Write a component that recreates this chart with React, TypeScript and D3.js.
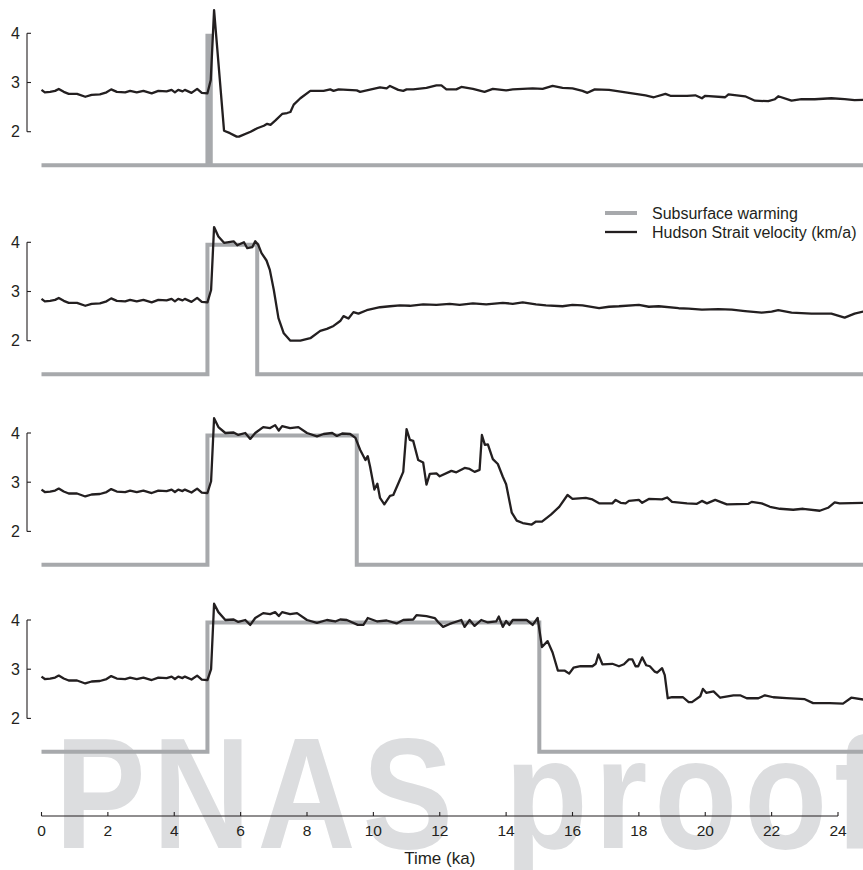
import React from 'react';
import * as d3 from 'd3';

// shared spin-up (0-5 ka), identical in every run
const spinup: [number, number][] = [
  [0, 2.85], [0.1, 2.8], [0.26, 2.81], [0.41, 2.83], [0.52, 2.87], [0.67, 2.81], [0.82, 2.77],
  [1.07, 2.77], [1.32, 2.71], [1.51, 2.75], [1.76, 2.76], [1.96, 2.8], [2.1, 2.86], [2.27, 2.81],
  [2.52, 2.8], [2.67, 2.83], [2.87, 2.8], [3.07, 2.83], [3.32, 2.78], [3.52, 2.83], [3.77, 2.82],
  [3.92, 2.85], [4.02, 2.8], [4.12, 2.85], [4.25, 2.82], [4.32, 2.85], [4.52, 2.79], [4.69, 2.87],
  [4.83, 2.79], [5.0, 2.78],
];

const tail1: [number, number][] = [
  [5.1, 3.05], [5.2, 4.47], [5.5, 2.02], [5.68, 1.97], [5.88, 1.9], [5.95, 1.9], [6.3, 2.0],
  [6.5, 2.07], [6.7, 2.12], [6.8, 2.16], [6.9, 2.14], [7.05, 2.23], [7.25, 2.36], [7.4, 2.38],
  [7.5, 2.4], [7.6, 2.55], [7.8, 2.68], [8.1, 2.83], [8.5, 2.83], [8.7, 2.86], [8.8, 2.83],
  [8.95, 2.86], [9.5, 2.84], [9.6, 2.81], [10.2, 2.9], [10.4, 2.88], [10.5, 2.93], [10.75, 2.85],
  [10.9, 2.83], [11.0, 2.86], [11.2, 2.86], [11.6, 2.89], [11.9, 2.94], [12.05, 2.94], [12.2, 2.86],
  [12.5, 2.86], [12.65, 2.91], [13.0, 2.87], [13.35, 2.81], [13.6, 2.87], [14.0, 2.84], [14.2, 2.86],
  [14.8, 2.88], [15.1, 2.87], [15.4, 2.93], [15.7, 2.89], [16.0, 2.88], [16.3, 2.83], [16.45, 2.79],
  [16.67, 2.86], [17.1, 2.85], [17.6, 2.8], [18.2, 2.74], [18.45, 2.7], [18.8, 2.77], [18.95, 2.73],
  [19.45, 2.73], [19.7, 2.74], [19.9, 2.68], [20.0, 2.73], [20.6, 2.7], [20.7, 2.76], [21.2, 2.72],
  [21.5, 2.63], [21.9, 2.62], [22.1, 2.66], [22.2, 2.72], [22.6, 2.63], [22.9, 2.66], [23.3, 2.66],
  [23.8, 2.68], [24.2, 2.66], [24.5, 2.64], [24.8, 2.65],
];

const tail2: [number, number][] = [
  [5.11, 3.03], [5.2, 4.31], [5.33, 4.12], [5.5, 3.99], [5.79, 4.02], [5.9, 3.94], [6.1, 4.0],
  [6.2, 3.88], [6.35, 3.9], [6.44, 4.02], [6.53, 3.95], [6.63, 3.78], [6.78, 3.63], [6.88, 3.44],
  [7.0, 3.03], [7.14, 2.46], [7.3, 2.15], [7.5, 2.0], [7.8, 2.0], [8.1, 2.05], [8.4, 2.2],
  [8.6, 2.24], [8.8, 2.3], [9.0, 2.4], [9.1, 2.5], [9.25, 2.45], [9.4, 2.58], [9.55, 2.55],
  [9.8, 2.62], [10.0, 2.65], [10.2, 2.68], [10.5, 2.7], [10.8, 2.72], [11.1, 2.71], [11.5, 2.74],
  [11.9, 2.73], [12.3, 2.75], [12.6, 2.73], [13.0, 2.76], [13.4, 2.74], [13.9, 2.77], [14.2, 2.75],
  [14.5, 2.78], [14.9, 2.74], [15.2, 2.72], [15.7, 2.7], [16.0, 2.73], [16.3, 2.72], [16.8, 2.66],
  [17.1, 2.69], [17.4, 2.7], [18.0, 2.73], [18.3, 2.69], [18.6, 2.7], [19.2, 2.66], [19.5, 2.65],
  [19.9, 2.63], [20.4, 2.64], [20.8, 2.63], [21.2, 2.6], [21.7, 2.57], [22.0, 2.59], [22.2, 2.62],
  [22.6, 2.57], [23.2, 2.55], [23.8, 2.55], [24.2, 2.47], [24.5, 2.55], [24.8, 2.6],
];

const tail3: [number, number][] = [
  [5.11, 3.02], [5.2, 4.3], [5.33, 4.12], [5.54, 4.0], [5.79, 4.01], [5.93, 3.96], [6.14, 4.0],
  [6.29, 3.88], [6.44, 4.0], [6.68, 4.12], [6.89, 4.1], [7.04, 4.16], [7.15, 4.05], [7.25, 4.14],
  [7.49, 4.1], [7.74, 4.12], [8.0, 4.0], [8.3, 3.93], [8.5, 3.98], [8.76, 4.0], [8.9, 3.94],
  [9.06, 3.99], [9.3, 3.98], [9.46, 3.9], [9.6, 3.66], [9.76, 3.45], [9.83, 3.53], [9.9, 3.32],
  [10.03, 2.85], [10.12, 2.97], [10.2, 2.68], [10.33, 2.55], [10.5, 2.72], [10.6, 2.74], [10.76, 2.99],
  [10.9, 3.21], [11.0, 4.08], [11.1, 3.86], [11.2, 3.84], [11.35, 3.45], [11.5, 3.4], [11.6, 2.95],
  [11.7, 3.17], [11.9, 3.18], [12.0, 3.12], [12.35, 3.23], [12.5, 3.2], [12.75, 3.29], [12.9, 3.27],
  [13.05, 3.21], [13.2, 3.25], [13.27, 3.96], [13.36, 3.76], [13.45, 3.77], [13.6, 3.47], [13.75, 3.37],
  [13.9, 3.11], [14.0, 2.96], [14.17, 2.38], [14.32, 2.22], [14.5, 2.17], [14.77, 2.14], [14.9, 2.2],
  [15.08, 2.2], [15.35, 2.34], [15.6, 2.5], [15.85, 2.74], [16.0, 2.66], [16.4, 2.68], [16.6, 2.65],
  [16.8, 2.57], [17.2, 2.57], [17.3, 2.64], [17.45, 2.58], [17.6, 2.57], [17.7, 2.62], [18.0, 2.64],
  [18.1, 2.58], [18.3, 2.66], [18.7, 2.65], [18.85, 2.69], [19.0, 2.6], [19.45, 2.57], [19.75, 2.56],
  [19.9, 2.62], [20.05, 2.57], [20.3, 2.64], [20.65, 2.55], [21.3, 2.56], [21.4, 2.6], [21.7, 2.57],
  [21.95, 2.5], [22.25, 2.46], [22.65, 2.44], [22.95, 2.46], [23.45, 2.42], [23.7, 2.48], [23.9, 2.59],
  [24.05, 2.57], [24.8, 2.58],
];

const tail4: [number, number][] = [
  [5.11, 3.0], [5.2, 4.33], [5.33, 4.16], [5.54, 4.0], [5.79, 4.01], [5.93, 3.96], [6.14, 4.0],
  [6.29, 3.9], [6.44, 4.04], [6.68, 4.14], [6.89, 4.12], [7.04, 4.16], [7.15, 4.08], [7.25, 4.16],
  [7.49, 4.12], [7.7, 4.14], [8.0, 4.0], [8.3, 3.94], [8.6, 4.0], [8.85, 3.97], [9.0, 4.01],
  [9.2, 4.0], [9.53, 3.9], [9.7, 3.9], [9.83, 4.04], [10.12, 3.97], [10.4, 3.99], [10.7, 3.93],
  [10.9, 4.0], [11.2, 4.01], [11.3, 4.1], [11.6, 4.08], [11.85, 4.04], [11.95, 3.96], [12.1, 3.86],
  [12.3, 3.92], [12.65, 4.0], [12.75, 3.86], [12.9, 4.0], [13.05, 3.88], [13.25, 4.0], [13.45, 3.95],
  [13.7, 3.97], [13.78, 4.07], [13.9, 3.86], [14.0, 3.98], [14.1, 3.9], [14.2, 4.0], [14.62, 4.0],
  [14.8, 3.9], [14.95, 4.04], [15.08, 3.45], [15.25, 3.57], [15.4, 3.34], [15.56, 2.97], [15.77, 2.97],
  [15.9, 2.91], [16.03, 3.03], [16.24, 3.06], [16.6, 3.06], [16.7, 3.11], [16.78, 3.3], [16.9, 3.1],
  [17.2, 3.11], [17.4, 3.06], [17.55, 3.1], [17.7, 3.2], [17.8, 3.2], [17.9, 3.06], [17.98, 3.06],
  [18.1, 3.24], [18.22, 3.08], [18.33, 3.06], [18.48, 2.95], [18.55, 2.93], [18.7, 3.02], [18.78, 2.88],
  [18.87, 2.41], [19.0, 2.43], [19.33, 2.43], [19.5, 2.33], [19.6, 2.33], [19.85, 2.45], [19.93, 2.6],
  [20.03, 2.52], [20.25, 2.55], [20.45, 2.42], [20.85, 2.47], [21.05, 2.47], [21.25, 2.41], [21.6, 2.41],
  [21.8, 2.47], [22.05, 2.43], [22.45, 2.41], [23.0, 2.39], [23.25, 2.31], [23.75, 2.31], [24.15, 2.3],
  [24.4, 2.42], [24.8, 2.38],
];

const velocity = [spinup.concat(tail1), spinup.concat(tail2), spinup.concat(tail3), spinup.concat(tail4)];
const warmingStart = 5;
const warmingEnd = [5.1, 6.5, 9.5, 15];
const warmingLow = 1.32;
const warmingHigh = 3.95;
const tEnd = 24.8;

const xTicks = [0, 2, 4, 6, 8, 10, 12, 14, 16, 18, 20, 22, 24];
const yTicks = [2, 3, 4];
const legendLabels = ['Subsurface warming', 'Hudson Strait velocity (km/a)'];

const W = 863;
const H = 870;
const panelTop = [33.3, 242.3, 433, 620];
const unitPx = 49.2;
const axisY = 816;
const font = 'Liberation Sans, Arial, Helvetica, sans-serif';
const ink = '#231f20';
const grey = '#a7a9ac';

export default function App() {
  const x = d3.scaleLinear().domain([0, 24]).range([41.5, 838]);

  return (
    <div>
      <style>{'body{margin:0}'}</style>
      <svg width={W} height={H} style={{ display: 'block', background: '#fff' }}>
        <text
          transform="translate(55,848) scale(0.86,1)"
          fontFamily={font}
          fontWeight="bold"
          fontSize={158}
          letterSpacing={8}
          fill="#dcdddf"
        >
          PNAS proof
        </text>

        {velocity.map((series, i) => {
          const y = d3.scaleLinear().domain([2, 4]).range([panelTop[i] + 2 * unitPx, panelTop[i]]);
          const warm: [number, number][] = [
            [0, warmingLow], [warmingStart, warmingHigh], [warmingEnd[i], warmingLow], [tEnd, warmingLow],
          ];
          const step = d3.line<[number, number]>().x(d => x(d[0])).y(d => y(d[1])).curve(d3.curveStepAfter);
          const line = d3.line<[number, number]>().x(d => x(d[0])).y(d => y(d[1]));
          const ax = 27;
          return (
            <g key={i}>
              <path d={step(warm) || ''} fill="none" stroke={grey} strokeWidth={4} />
              <path d={line(series) || ''} fill="none" stroke={ink} strokeWidth={2.3} strokeLinejoin="round" />
              <line x1={ax} x2={ax} y1={y(4)} y2={y(2)} stroke={ink} strokeWidth={1.1} />
              {yTicks.map(t => (
                <g key={t}>
                  <line x1={ax} x2={ax + 4} y1={y(t)} y2={y(t)} stroke={ink} strokeWidth={1.1} />
                  <text x={20} y={y(t)} dy="0.36em" textAnchor="end" fontFamily={font} fontSize={16} fill={ink}>
                    {t}
                  </text>
                </g>
              ))}
            </g>
          );
        })}

        <g>
          <line x1={x(0)} x2={x(24)} y1={axisY} y2={axisY} stroke={ink} strokeWidth={1.1} />
          {xTicks.map(t => (
            <g key={t}>
              <line x1={x(t)} x2={x(t)} y1={axisY} y2={axisY - 4} stroke={ink} strokeWidth={1.1} />
              <text x={x(t)} y={axisY + 20} textAnchor="middle" fontFamily={font} fontSize={15.5} fill={ink}>
                {t}
              </text>
            </g>
          ))}
          <text x={x(12)} y={axisY + 48} textAnchor="middle" fontFamily={font} fontSize={17} fill={ink}>
            Time (ka)
          </text>
        </g>

        <g fontFamily={font} fontSize={16} fill={ink}>
          <line x1={605} x2={637} y1={213} y2={213} stroke={grey} strokeWidth={4} />
          <text x={652} y={213} dy="0.36em">{legendLabels[0]}</text>
          <line x1={605} x2={637} y1={232} y2={232} stroke={ink} strokeWidth={2.3} />
          <text x={652} y={232} dy="0.36em">{legendLabels[1]}</text>
        </g>
      </svg>
    </div>
  );
}
